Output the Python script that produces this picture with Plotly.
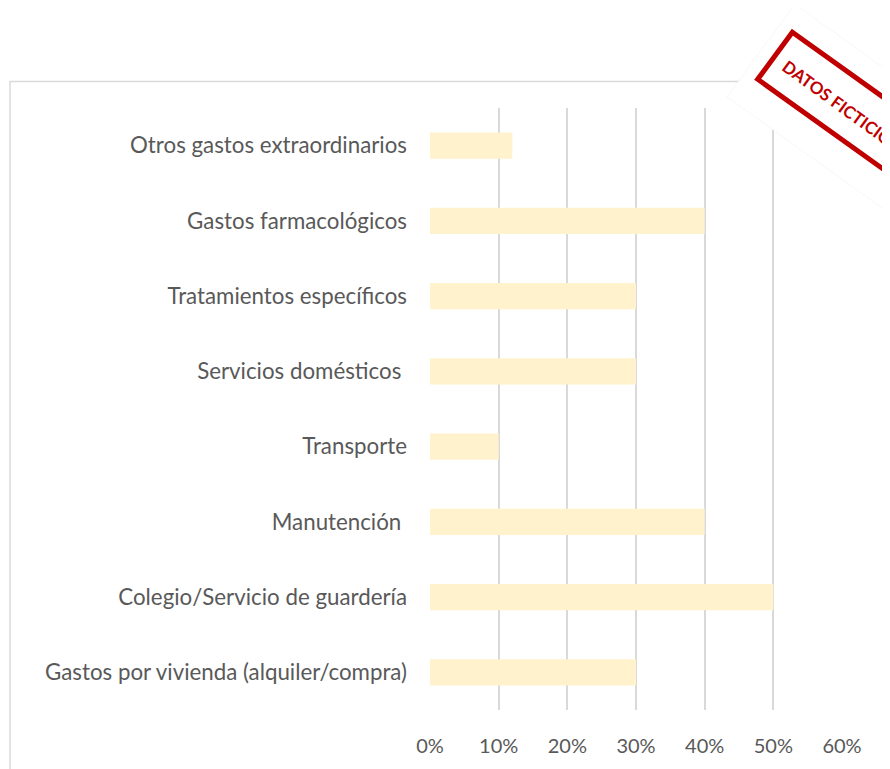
import math
import plotly.graph_objects as go

categories = [
    "Gastos por vivienda (alquiler/compra)",
    "Colegio/Servicio de guardería",
    "Manutención ",
    "Transporte",
    "Servicios domésticos ",
    "Tratamientos específicos",
    "Gastos farmacológicos",
    "Otros gastos extraordinarios",
]
values = [0.30, 0.50, 0.40, 0.10, 0.30, 0.30, 0.40, 0.12]
tick_vals = [0, 0.1, 0.2, 0.3, 0.4, 0.5, 0.6]
tick_text = ["0%", "10%", "20%", "30%", "40%", "50%", "60%"]
stamp_text = "DATOS FICTICIOS"

OFF = 8  # page body margin
W, H = 890 - OFF, 769 - OFF
ML, MR, MT, MB = 430 - OFF, 48, 108 - OFF, 58 - OFF
PW, PH = W - ML - MR, H - MT - MB


def px(x, y):
    # page pixel -> paper coords
    x -= OFF
    y -= OFF
    return (x - ML) / PW, (H - MB - y) / PH


fig = go.Figure(go.Bar(
    y=categories, x=values, orientation="h",
    marker=dict(color="#FFF2CC", line=dict(width=0)),
    width=0.35,
))

shapes = []
x0, y0 = px(10, 81)
x1, y1 = px(900, 800)
shapes.append(dict(type="rect", xref="paper", yref="paper", x0=x0, y0=y1, x1=x1, y1=y0,
                   line=dict(color="#D9D9D9", width=1.5), fillcolor="rgba(0,0,0,0)", layer="below"))

ang = math.radians(36)
u = (math.cos(ang), math.sin(ang))
v = (-math.sin(ang), math.cos(ang))
c0 = (773, 53.5)


def local(a, b):
    return (c0[0] + a * u[0] + b * v[0], c0[1] + a * u[1] + b * v[1])


def poly(pts):
    s = ""
    for i, (a, b) in enumerate(pts):
        X, Y = px(*local(a, b))
        s += ("M" if i == 0 else "L") + f"{X:.5f},{Y:.5f} "
    return s + "Z"


shapes.append(dict(type="path", xref="paper", yref="paper",
                   path=poly([(-12, -54), (240, -54), (240, 62), (-12, 62)]),
                   fillcolor="white", line=dict(color="rgba(240,240,240,0.5)", width=1), layer="above"))
shapes.append(dict(type="path", xref="paper", yref="paper",
                   path=poly([(2.5, -29.5), (180, -29.5), (180, 29.5), (2.5, 29.5)]),
                   fillcolor="rgba(0,0,0,0)", line=dict(color="#C00000", width=5), layer="above"))

tx, ty = px(*local(86, 2))
FONT = "Lato"
fig.update_layout(
    width=W, height=H,
    margin=dict(l=ML, r=MR, t=MT, b=MB, pad=0),
    paper_bgcolor="white", plot_bgcolor="white",
    showlegend=False,
    font=dict(family=FONT, color="#595959", size=20),
    xaxis=dict(range=[0, 0.6], tickvals=tick_vals, ticktext=tick_text,
               showgrid=True, gridcolor="#D9D9D9", gridwidth=1.5,
               zeroline=False, showline=False, ticks="",
               ticklabelstandoff=22, tickfont=dict(size=20, color="#595959", family=FONT)),
    yaxis=dict(categoryorder="array", categoryarray=categories,
               showgrid=False, zeroline=False, showline=False, ticks="",
               ticklabelstandoff=22, tickfont=dict(size=22.3, color="#595959", family=FONT)),
    shapes=shapes,
    annotations=[dict(text=f"<b>{stamp_text}</b>", xref="paper", yref="paper", x=tx, y=ty,
                      showarrow=False, textangle=36, xanchor="center", yanchor="middle",
                      font=dict(family=FONT, size=17, color="#C00000"))],
)
fig.write_html("out.html")
